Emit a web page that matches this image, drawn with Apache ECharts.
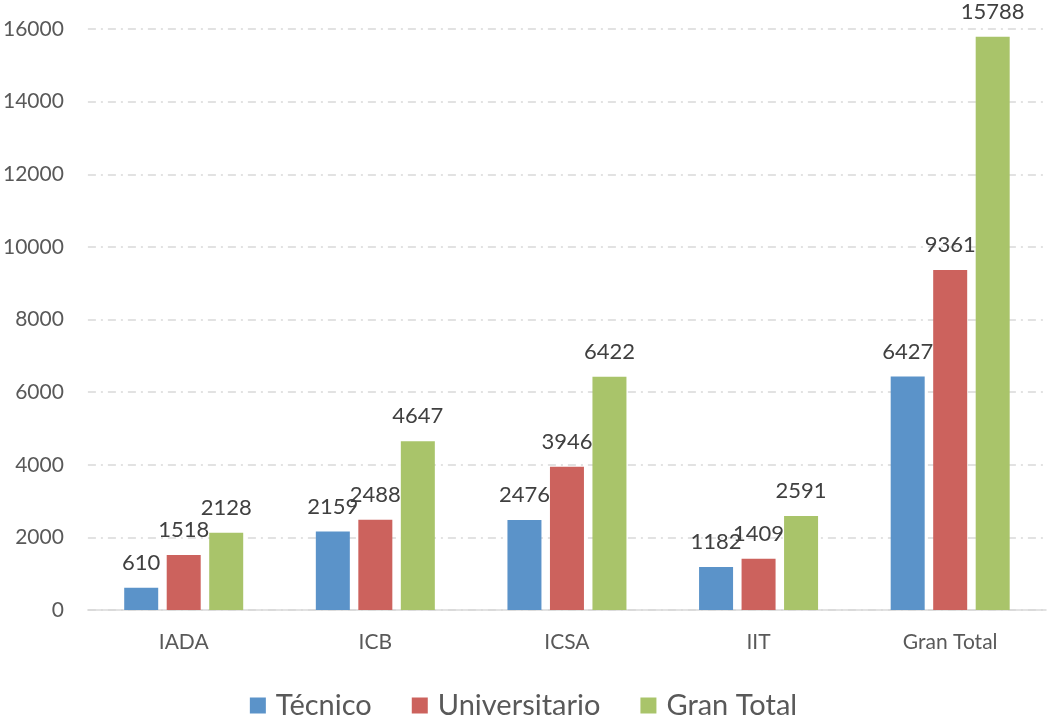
<!DOCTYPE html>
<html>
<head>
<meta charset="utf-8">
<script src="https://cdn.jsdelivr.net/npm/echarts@6/dist/echarts.min.js"></script>
<style>
  html, body { margin: 0; padding: 0; background: #fff; }
  #main { width: 1047px; height: 719px; }
</style>
</head>
<body>
<div id="main"></div>
<script>
// datos del gráfico
const categorias = ['IADA', 'ICB', 'ICSA', 'IIT', 'Gran Total'];
const tecnico = [610, 2159, 2476, 1182, 6427];
const universitario = [1518, 2488, 3946, 1409, 9361];
const granTotal = [2128, 4647, 6422, 2591, 15788];

const fuente = 'Lato, "Open Sans", sans-serif';

function serie(nombre, datos, color) {
    return {
        name: nombre,
        type: 'bar',
        data: datos,
        barWidth: 34,
        barGap: '25%',
        itemStyle: { color: color },
        label: {
            show: true,
            position: 'top',
            distance: 14,
            fontSize: 22,
            color: '#404040',
            fontFamily: fuente
        }
    };
}

const option = {
    animation: false,
    textStyle: { fontFamily: fuente },
    grid: { left: 87, right: 1, top: 29, bottom: 109 },
    legend: {
        top: 686,
        left: 'center',
        itemWidth: 16,
        itemHeight: 16,
        itemGap: 40,
        icon: 'rect',
        textStyle: { fontSize: 29, color: '#595959', fontFamily: fuente, padding: [0, 0, 0, 5] },
        data: ['Técnico', 'Universitario', 'Gran Total']
    },
    xAxis: {
        type: 'category',
        data: categorias,
        axisTick: { show: false },
        axisLine: { lineStyle: { color: '#d9d9d9', width: 1.5 } },
        axisLabel: { fontSize: 21, color: '#595959', margin: 22, fontFamily: fuente }
    },
    yAxis: {
        type: 'value',
        min: 0,
        max: 16000,
        interval: 2000,
        axisLine: { show: false },
        axisTick: { show: false },
        axisLabel: {
            fontSize: 21, color: '#595959', margin: 24, fontFamily: fuente,
            formatter: (v) => String(v)
        },
        splitLine: { lineStyle: { color: '#d9d9d9', width: 1.5, type: [8, 5, 2, 5] } }
    },
    series: [
        serie('Técnico', tecnico, '#5b93c9'),
        serie('Universitario', universitario, '#cc625d'),
        serie('Gran Total', granTotal, '#a9c46a')
    ]
};

const myChart = echarts.init(document.getElementById('main'));
myChart.setOption(option);
</script>
</body>
</html>
